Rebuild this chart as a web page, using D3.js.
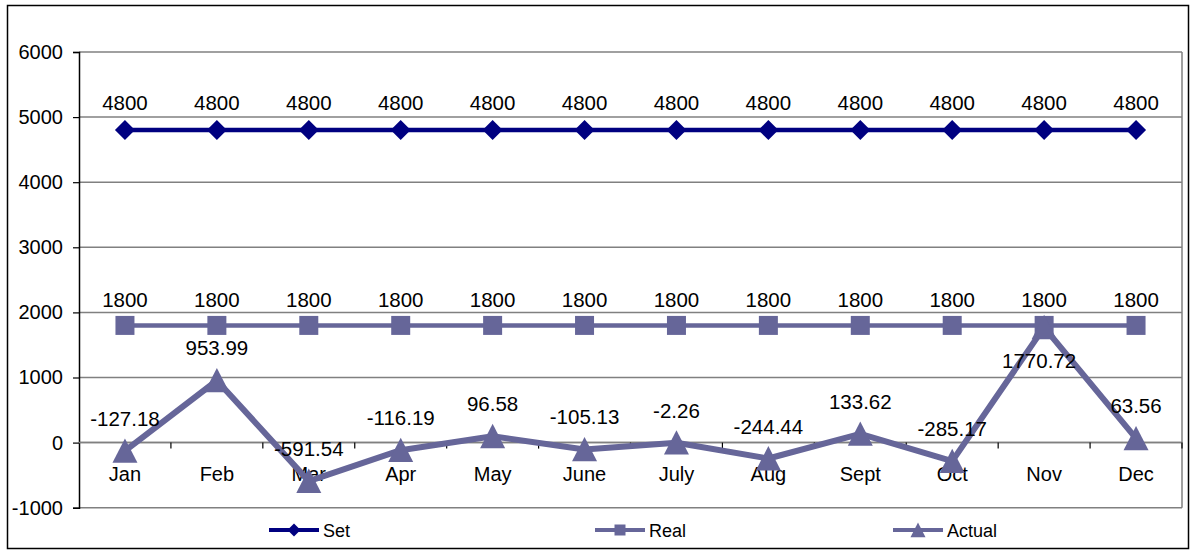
<!DOCTYPE html>
<html>
<head>
<meta charset="utf-8">
<script src="https://cdn.jsdelivr.net/npm/d3@7"></script>
<style>
  html, body { margin: 0; padding: 0; background: #fff; }
  svg text { font-family: "Liberation Sans", Arial, sans-serif; fill: #000; }
</style>
</head>
<body>
<svg id="chart" width="1197" height="550"></svg>
<script>
// Monthly figures
const months = ["Jan", "Feb", "Mar", "Apr", "May", "June", "July", "Aug", "Sept", "Oct", "Nov", "Dec"];
const setValues = [4800, 4800, 4800, 4800, 4800, 4800, 4800, 4800, 4800, 4800, 4800, 4800];
const realValues = [1800, 1800, 1800, 1800, 1800, 1800, 1800, 1800, 1800, 1800, 1800, 1800];
const actualValues = [-127.18, 953.99, -591.54, -116.19, 96.58, -105.13, -2.26, -244.44, 133.62, -285.17, 1770.72, 63.56];
const yTicks = [-1000, 0, 1000, 2000, 3000, 4000, 5000, 6000];
const seriesNames = ["Set", "Real", "Actual"];

const svg = d3.select("#chart");
const plot = { left: 79, right: 1182, top: 52, bottom: 507.7 };

const x = d3.scalePoint().domain(months).range([plot.left, plot.right]).padding(0.5);
const xBand = d3.scaleBand().domain(months).range([plot.left, plot.right]);
const y = d3.scaleLinear().domain([-1000, 6000]).range([plot.bottom, plot.top]);

// outer chart frame
svg.append("rect")
  .attr("x", 7.5).attr("y", 5.5).attr("width", 1181).attr("height", 543)
  .attr("fill", "#fff").attr("stroke", "#000").attr("stroke-width", 1.5);

// horizontal gridlines
svg.append("g").selectAll("line").data(yTicks).join("line")
  .attr("x1", plot.left).attr("x2", plot.right)
  .attr("y1", d => y(d)).attr("y2", d => y(d))
  .attr("stroke", "#808080").attr("stroke-width", 1.5);

// right border of plot area
svg.append("line")
  .attr("x1", plot.right).attr("x2", plot.right)
  .attr("y1", plot.top).attr("y2", plot.bottom)
  .attr("stroke", "#808080").attr("stroke-width", 1.5);

// value axis
const yAxis = svg.append("g")
  .attr("transform", `translate(${plot.left},0)`)
  .call(d3.axisLeft(y).tickValues(yTicks).tickSize(6).tickPadding(10).tickFormat(d => String(d)));
yAxis.select(".domain").attr("stroke", "#000").attr("stroke-width", 1.5);
yAxis.selectAll(".tick line").attr("stroke", "#000").attr("stroke-width", 1.2);
yAxis.selectAll("text").attr("font-size", 20).attr("fill", "#000");

// category axis at zero with ticks between categories
svg.append("line")
  .attr("x1", plot.left).attr("x2", plot.right)
  .attr("y1", y(0)).attr("y2", y(0))
  .attr("stroke", "#808080").attr("stroke-width", 1.5);
const boundaries = months.map(m => xBand(m)).slice(1).concat([plot.right]);
svg.append("g").selectAll("line").data(boundaries).join("line")
  .attr("x1", d => d).attr("x2", d => d)
  .attr("y1", y(0)).attr("y2", y(0) + 6)
  .attr("stroke", "#000").attr("stroke-width", 1.2);
svg.append("g").selectAll("text").data(months).join("text")
  .attr("x", d => x(d)).attr("y", y(0) + 38)
  .attr("text-anchor", "middle").attr("font-size", 20)
  .text(d => d);

const navy = "#000080";
const slate = "#666699";

const diamond = s => `M0,${-s}L${s},0L0,${s}L${-s},0Z`;
const square = s => `M${-s},${-s}H${s}V${s}H${-s}Z`;
const triangle = s => `M0,${-s}L${s},${s * 0.95}L${-s},${s * 0.95}Z`;

const line = d3.line().x((d, i) => x(months[i])).y(d => y(d));

function drawSeries(values, color, width, shape, size) {
  const g = svg.append("g");
  g.append("path").datum(values)
    .attr("d", line).attr("fill", "none")
    .attr("stroke", color).attr("stroke-width", width).attr("stroke-linejoin", "round");
  g.selectAll("path.m").data(values).join("path").attr("class", "m")
    .attr("transform", (d, i) => `translate(${x(months[i])},${y(d)})`)
    .attr("d", shape(size)).attr("fill", color);
  return g;
}

drawSeries(setValues, navy, 4.5, diamond, 10);
drawSeries(realValues, slate, 4.5, square, 9.5);
drawSeries(actualValues, slate, 6, triangle, 12.5);

// data labels (plain hyphen for negatives)
function labels(values, dxFn, dyFn) {
  svg.append("g").selectAll("text").data(values).join("text")
    .attr("x", (d, i) => x(months[i]) + dxFn(d, i))
    .attr("y", (d, i) => y(d) + dyFn(d, i))
    .attr("text-anchor", "middle").attr("font-size", 20.5)
    .text(d => String(d));
}
labels(setValues, () => 0, () => -20);
labels(realValues, () => 0, () => -18);
labels(actualValues, d => d > 1500 ? -5 : 0, d => d > 1500 ? 41 : -25);

// legend
const legendItems = [
  { name: seriesNames[0], color: navy, shape: diamond, size: 6.5, x: 269 },
  { name: seriesNames[1], color: slate, shape: square, size: 5.5, x: 595 },
  { name: seriesNames[2], color: slate, shape: triangle, size: 7.5, x: 893 }
];
const ly = 530;
const lg = svg.append("g");
legendItems.forEach(it => {
  lg.append("line").attr("x1", it.x).attr("x2", it.x + 50)
    .attr("y1", ly).attr("y2", ly).attr("stroke", it.color).attr("stroke-width", 4);
  lg.append("path").attr("transform", `translate(${it.x + 25},${ly})`)
    .attr("d", it.shape(it.size)).attr("fill", it.color);
  lg.append("text").attr("x", it.x + 54).attr("y", ly + 6.5)
    .attr("font-size", 18).text(it.name);
});
</script>
</body>
</html>
